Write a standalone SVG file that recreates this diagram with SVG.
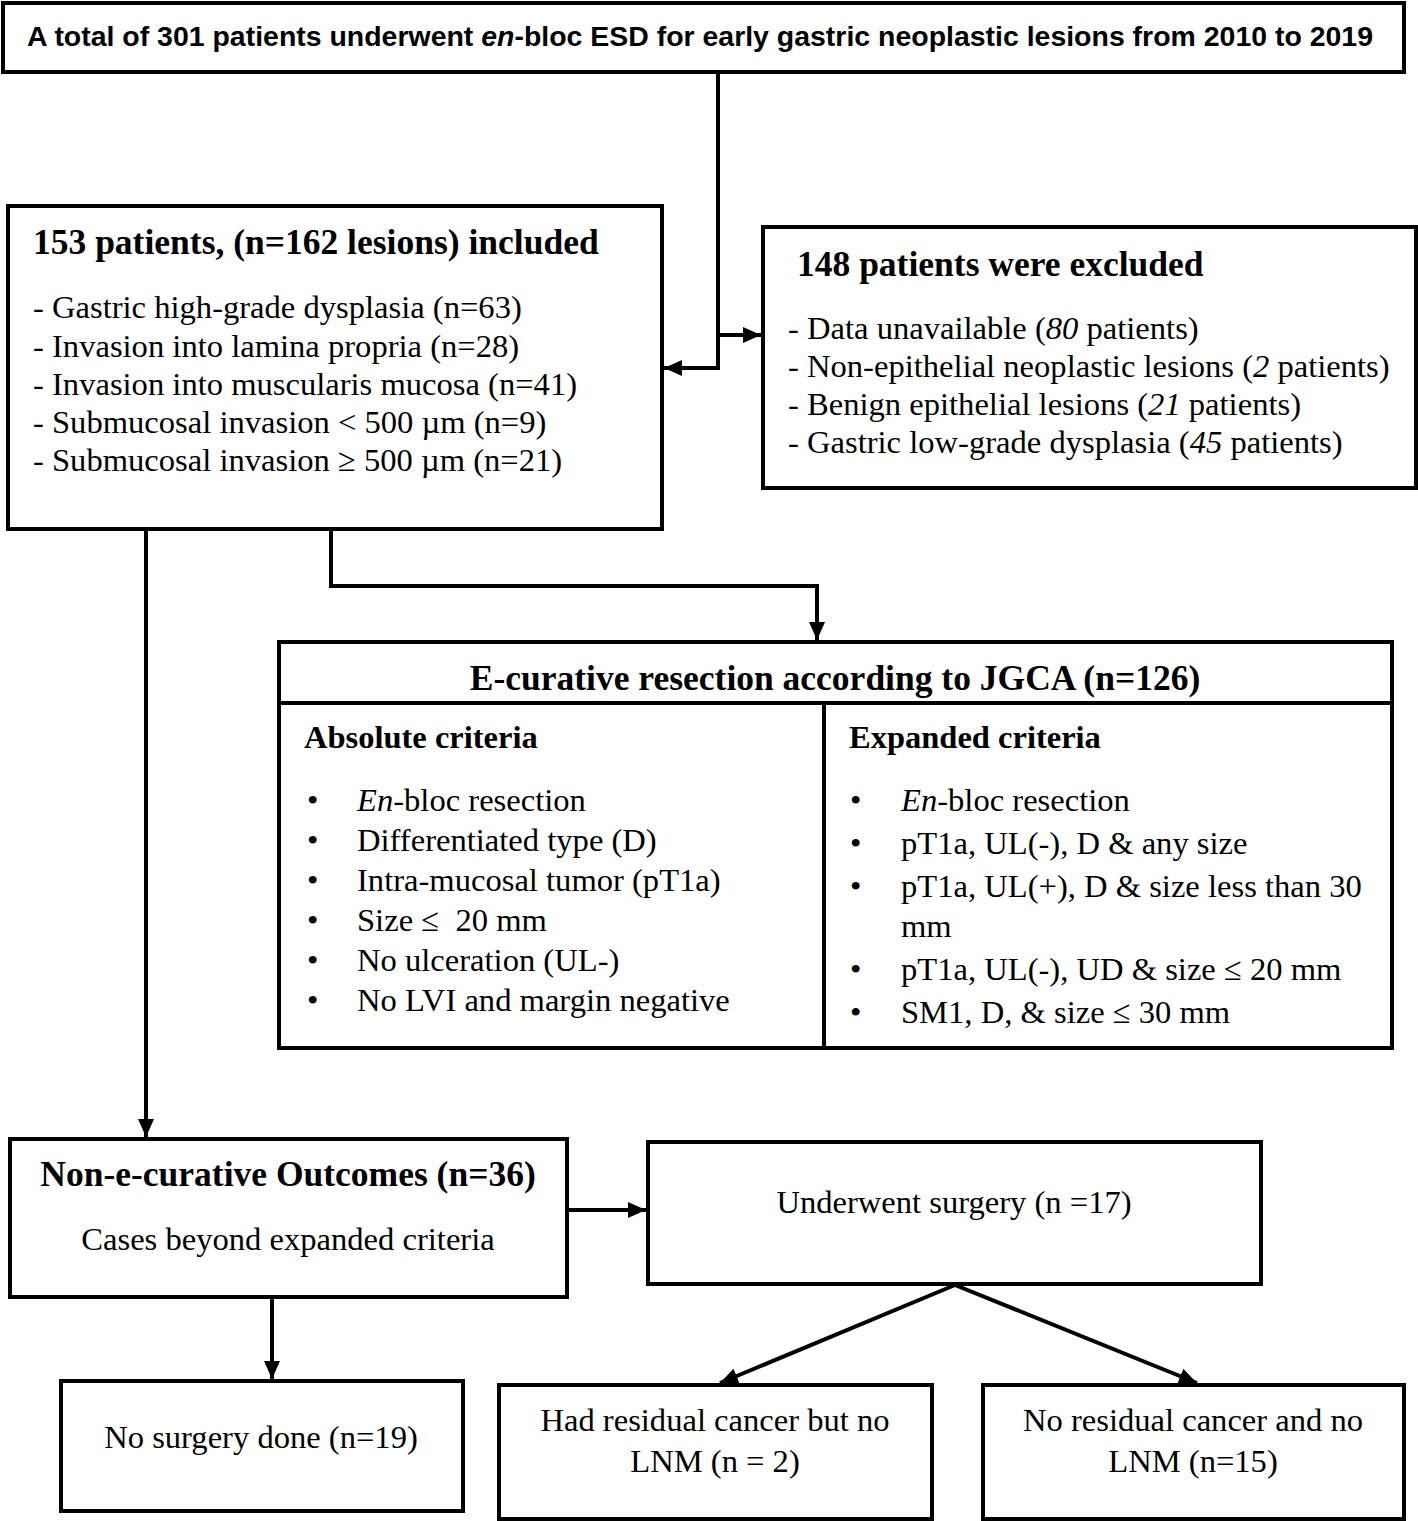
<svg xmlns="http://www.w3.org/2000/svg" width="1418" height="1521" viewBox="0 0 1418 1521">
<style>
.box{fill:#fff;stroke:#000;stroke-width:4}
.ln{fill:none;stroke:#000;stroke-width:4}
.t{font-family:"Liberation Serif","Times New Roman",serif;font-size:32.6px;fill:#000}
.b{font-weight:bold;font-size:35.5px}
.hb{font-weight:bold;font-size:32.5px}
.c{text-anchor:middle}
.ti{font-family:"Liberation Sans",Arial,sans-serif;font-weight:bold;font-size:28px;fill:#000}
</style>
<defs>
<marker id="ah" markerUnits="userSpaceOnUse" markerWidth="18" markerHeight="16" refX="18" refY="8" orient="auto">
<path d="M0,0 L18,8 L0,16 z" fill="#000"/>
</marker>
</defs>
<rect width="1418" height="1521" fill="#fff"/>

<g id="connectors">
<path class="ln" d="M718,72 V368 H664" marker-end="url(#ah)"/>
<path class="ln" d="M718,335 H761" marker-end="url(#ah)"/>
<path class="ln" d="M331,529 V586 H817 V640" marker-end="url(#ah)"/>
<path class="ln" d="M146,529 V1137" marker-end="url(#ah)"/>
<path class="ln" d="M567,1210 H646" marker-end="url(#ah)"/>
<path class="ln" d="M272,1297 V1379" marker-end="url(#ah)"/>
<path class="ln" d="M955,1285 L720,1383" marker-end="url(#ah)"/>
<path class="ln" d="M955,1285 L1197,1383" marker-end="url(#ah)"/>
</g>

<g id="n-total">
<rect class="box" x="3" y="3" width="1401" height="69"/>
<text class="ti" x="27" y="46" textLength="1346" lengthAdjust="spacingAndGlyphs">A total of 301 patients underwent <tspan font-style="italic">en</tspan>-bloc ESD for early gastric neoplastic lesions from 2010 to 2019</text>
</g>

<g id="n-included">
<rect class="box" x="8" y="206" width="654" height="323"/>
<text class="t b" x="33" y="254">153 patients, (n=162 lesions) included</text>
<text class="t" x="33" y="318">- Gastric high-grade dysplasia (n=63)</text>
<text class="t" x="33" y="357">- Invasion into lamina propria (n=28)</text>
<text class="t" x="33" y="395">- Invasion into muscularis mucosa (n=41)</text>
<text class="t" x="33" y="433">- Submucosal invasion &lt; 500 µm (n=9)</text>
<text class="t" x="33" y="471">- Submucosal invasion ≥ 500 µm (n=21)</text>
</g>

<g id="n-excluded">
<rect class="box" x="763" y="227" width="653" height="261"/>
<text class="t b" x="797" y="276">148 patients were excluded</text>
<text class="t" x="788" y="339">- Data unavailable (<tspan font-style="italic">80</tspan> patients)</text>
<text class="t" x="788" y="377">- Non-epithelial neoplastic lesions (<tspan font-style="italic">2</tspan> patients)</text>
<text class="t" x="788" y="415">- Benign epithelial lesions (<tspan font-style="italic">21</tspan> patients)</text>
<text class="t" x="788" y="453">- Gastric low-grade dysplasia (<tspan font-style="italic">45</tspan> patients)</text>
</g>

<g id="n-ecurative">
<rect class="box" x="279" y="642" width="1113" height="406"/>
<line class="ln" x1="279" y1="703" x2="1392" y2="703"/>
<line class="ln" x1="824" y1="703" x2="824" y2="1048"/>
<text class="t b c" x="835" y="690">E-curative resection according to JGCA (n=126)</text>
<text class="t hb" x="304" y="748">Absolute criteria</text>
<text class="t hb" x="849" y="748">Expanded criteria</text>
<g class="t">
<text x="307" y="811">•</text>
<text x="307" y="851">•</text>
<text x="307" y="891">•</text>
<text x="307" y="931">•</text>
<text x="307" y="971">•</text>
<text x="307" y="1011">•</text>
</g>
<text class="t" x="357" y="811"><tspan font-style="italic">En</tspan>-bloc resection</text>
<text class="t" x="357" y="851">Differentiated type (D)</text>
<text class="t" x="357" y="891">Intra-mucosal tumor (pT1a)</text>
<text class="t" x="357" y="931" style="white-space:pre">Size ≤  20 mm</text>
<text class="t" x="357" y="971">No ulceration (UL-)</text>
<text class="t" x="357" y="1011">No LVI and margin negative</text>
<g class="t">
<text x="850" y="811">•</text>
<text x="850" y="854">•</text>
<text x="850" y="897">•</text>
<text x="850" y="980">•</text>
<text x="850" y="1023">•</text>
</g>
<text class="t" x="901" y="811"><tspan font-style="italic">En</tspan>-bloc resection</text>
<text class="t" x="901" y="854">pT1a, UL(-), D &amp; any size</text>
<text class="t" x="901" y="897">pT1a, UL(+), D &amp; size less than 30</text>
<text class="t" x="901" y="937">mm</text>
<text class="t" x="901" y="980">pT1a, UL(-), UD &amp; size ≤ 20 mm</text>
<text class="t" x="901" y="1023">SM1, D, &amp; size ≤ 30 mm</text>
</g>

<g id="n-noncurative">
<rect class="box" x="10" y="1139" width="557" height="158"/>
<text class="t b c" x="288" y="1186">Non-e-curative Outcomes (n=36)</text>
<text class="t c" x="288" y="1250">Cases beyond expanded criteria</text>
</g>

<g id="n-surgery">
<rect class="box" x="648" y="1142" width="613" height="142"/>
<text class="t c" x="954" y="1213">Underwent surgery (n =17)</text>
</g>

<g id="n-nosurgery">
<rect class="box" x="61" y="1381" width="402" height="130"/>
<text class="t c" x="261" y="1448">No surgery done (n=19)</text>
</g>

<g id="n-residual">
<rect class="box" x="499" y="1385" width="433" height="134"/>
<text class="t c" x="715" y="1431">Had residual cancer but no</text>
<text class="t c" x="715" y="1472">LNM (n = 2)</text>
</g>

<g id="n-noresidual">
<rect class="box" x="983" y="1385" width="421" height="134"/>
<text class="t c" x="1193" y="1431">No residual cancer and no</text>
<text class="t c" x="1193" y="1472">LNM (n=15)</text>
</g>
</svg>
